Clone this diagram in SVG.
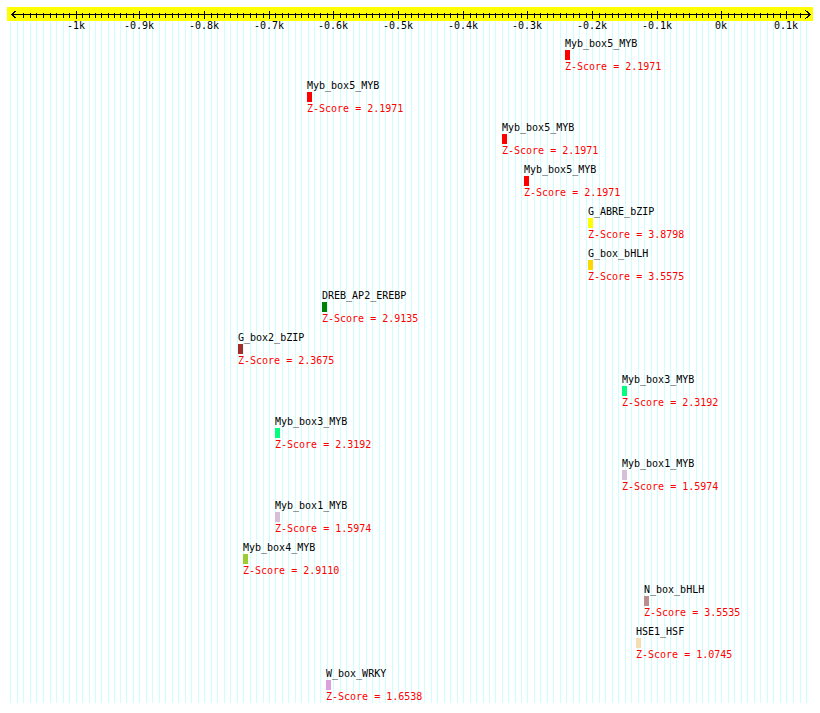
<svg xmlns="http://www.w3.org/2000/svg" width="820" height="713" viewBox="0 0 820 713">
<style>
text{font-family:"DejaVu Sans Mono","Liberation Mono",monospace;font-size:10px}
.n{fill:#000}
.z{fill:#ff0000}
.ax{fill:#000;text-anchor:middle}
.grid{stroke:#ccffff;stroke-width:1;fill:none;shape-rendering:crispEdges}
.tk{stroke:#000;stroke-width:1;fill:none;shape-rendering:crispEdges}
</style>
<rect width="820" height="713" fill="#ffffff"/>
<g id="grid" transform="translate(0.5,0)">
<path class="grid" d="M10 21V703M17 21V703M23 21V703M30 21V703M36 21V703M43 21V703M50 21V703M56 21V703M63 21V703M69 21V703M76 21V703M82 21V703M89 21V703M95 21V703M101 21V703M108 21V703M114 21V703M120 21V703M126 21V703M133 21V703M139 21V703M146 21V703M152 21V703M159 21V703M165 21V703M172 21V703M178 21V703M185 21V703M191 21V703M198 21V703M204 21V703M211 21V703M217 21V703M224 21V703M230 21V703M237 21V703M243 21V703M250 21V703M256 21V703M263 21V703M269 21V703M275 21V703M282 21V703M288 21V703M295 21V703M301 21V703M308 21V703M314 21V703M320 21V703M327 21V703M333 21V703M340 21V703M346 21V703M353 21V703M359 21V703M366 21V703M372 21V703M379 21V703M385 21V703M392 21V703M398 21V703M405 21V703M411 21V703M418 21V703M424 21V703M431 21V703M437 21V703M444 21V703M450 21V703M457 21V703M463 21V703M470 21V703M476 21V703M483 21V703M489 21V703M495 21V703M502 21V703M508 21V703M515 21V703M521 21V703M527 21V703M534 21V703M540 21V703M547 21V703M553 21V703M560 21V703M566 21V703M573 21V703M579 21V703M586 21V703M592 21V703M599 21V703M605 21V703M612 21V703M618 21V703M625 21V703M631 21V703M638 21V703M644 21V703M651 21V703M657 21V703M664 21V703M670 21V703M676 21V703M683 21V703M689 21V703M696 21V703M702 21V703M708 21V703M715 21V703M721 21V703M728 21V703M734 21V703M741 21V703M747 21V703M754 21V703M760 21V703M767 21V703M773 21V703M780 21V703M786 21V703M793 21V703M800 21V703M806 21V703"/>
</g>
<g id="axis">
<rect x="7" y="7" width="806" height="14" fill="#ffff00"/>
<g transform="translate(0.5,0.5)">
<path class="tk" d="M11 14H810"/>
<path class="tk" d="M23 12V17M30 12V17M36 12V17M43 12V17M50 12V17M56 12V17M63 12V17M69 12V17M82 12V17M89 12V17M95 12V17M101 12V17M108 12V17M114 12V17M120 12V17M126 12V17M133 12V17M146 12V17M152 12V17M159 12V17M165 12V17M172 12V17M178 12V17M185 12V17M191 12V17M198 12V17M211 12V17M217 12V17M224 12V17M230 12V17M237 12V17M243 12V17M250 12V17M256 12V17M263 12V17M275 12V17M282 12V17M288 12V17M295 12V17M301 12V17M308 12V17M314 12V17M320 12V17M327 12V17M340 12V17M346 12V17M353 12V17M359 12V17M366 12V17M372 12V17M379 12V17M385 12V17M392 12V17M405 12V17M411 12V17M418 12V17M424 12V17M431 12V17M437 12V17M444 12V17M450 12V17M457 12V17M470 12V17M476 12V17M483 12V17M489 12V17M495 12V17M502 12V17M508 12V17M515 12V17M521 12V17M534 12V17M540 12V17M547 12V17M553 12V17M560 12V17M566 12V17M573 12V17M579 12V17M586 12V17M599 12V17M605 12V17M612 12V17M618 12V17M625 12V17M631 12V17M638 12V17M644 12V17M651 12V17M664 12V17M670 12V17M676 12V17M683 12V17M689 12V17M696 12V17M702 12V17M708 12V17M715 12V17M728 12V17M734 12V17M741 12V17M747 12V17M754 12V17M760 12V17M767 12V17M773 12V17M780 12V17M793 12V17M800 12V17"/>
<path class="tk" d="M76 10V18M139 10V18M204 10V18M269 10V18M333 10V18M398 10V18M463 10V18M527 10V18M592 10V18M657 10V18M721 10V18M786 10V18"/>
<path class="tk" d="M16 10L11 14L16 18M805 10L810 14L805 18"/>
</g>
<text class="ax" x="76" y="29">-1k</text>
<text class="ax" x="139" y="29">-0.9k</text>
<text class="ax" x="204" y="29">-0.8k</text>
<text class="ax" x="269" y="29">-0.7k</text>
<text class="ax" x="333" y="29">-0.6k</text>
<text class="ax" x="398" y="29">-0.5k</text>
<text class="ax" x="463" y="29">-0.4k</text>
<text class="ax" x="527" y="29">-0.3k</text>
<text class="ax" x="592" y="29">-0.2k</text>
<text class="ax" x="657" y="29">-0.1k</text>
<text class="ax" x="721" y="29">0k</text>
<text class="ax" x="786" y="29">0.1k</text>
</g>
<g id="connectors"></g>
<g id="f1" transform="translate(565,0)"><text class="n" x="0" y="47">Myb_box5_MYB</text><rect x="0" y="50" width="5" height="10" fill="#ff0000"/><text class="z" x="0" y="70">Z-Score = 2.1971</text></g>
<g id="f2" transform="translate(307,42)"><text class="n" x="0" y="47">Myb_box5_MYB</text><rect x="0" y="50" width="5" height="10" fill="#ff0000"/><text class="z" x="0" y="70">Z-Score = 2.1971</text></g>
<g id="f3" transform="translate(502,84)"><text class="n" x="0" y="47">Myb_box5_MYB</text><rect x="0" y="50" width="5" height="10" fill="#ff0000"/><text class="z" x="0" y="70">Z-Score = 2.1971</text></g>
<g id="f4" transform="translate(524,126)"><text class="n" x="0" y="47">Myb_box5_MYB</text><rect x="0" y="50" width="5" height="10" fill="#ff0000"/><text class="z" x="0" y="70">Z-Score = 2.1971</text></g>
<g id="f5" transform="translate(588,168)"><text class="n" x="0" y="47">G_ABRE_bZIP</text><rect x="0" y="50" width="5" height="10" fill="#ffff00"/><text class="z" x="0" y="70">Z-Score = 3.8798</text></g>
<g id="f6" transform="translate(588,210)"><text class="n" x="0" y="47">G_box_bHLH</text><rect x="0" y="50" width="5" height="10" fill="#ffd700"/><text class="z" x="0" y="70">Z-Score = 3.5575</text></g>
<g id="f7" transform="translate(322,252)"><text class="n" x="0" y="47">DREB_AP2_EREBP</text><rect x="0" y="50" width="5" height="10" fill="#008000"/><text class="z" x="0" y="70">Z-Score = 2.9135</text></g>
<g id="f8" transform="translate(238,294)"><text class="n" x="0" y="47">G_box2_bZIP</text><rect x="0" y="50" width="5" height="10" fill="#a52a2a"/><text class="z" x="0" y="70">Z-Score = 2.3675</text></g>
<g id="f9" transform="translate(622,336)"><text class="n" x="0" y="47">Myb_box3_MYB</text><rect x="0" y="50" width="5" height="10" fill="#00ff7f"/><text class="z" x="0" y="70">Z-Score = 2.3192</text></g>
<g id="f10" transform="translate(275,378)"><text class="n" x="0" y="47">Myb_box3_MYB</text><rect x="0" y="50" width="5" height="10" fill="#00ff7f"/><text class="z" x="0" y="70">Z-Score = 2.3192</text></g>
<g id="f11" transform="translate(622,420)"><text class="n" x="0" y="47">Myb_box1_MYB</text><rect x="0" y="50" width="5" height="10" fill="#d8bfd8"/><text class="z" x="0" y="70">Z-Score = 1.5974</text></g>
<g id="f12" transform="translate(275,462)"><text class="n" x="0" y="47">Myb_box1_MYB</text><rect x="0" y="50" width="5" height="10" fill="#d8bfd8"/><text class="z" x="0" y="70">Z-Score = 1.5974</text></g>
<g id="f13" transform="translate(243,504)"><text class="n" x="0" y="47">Myb_box4_MYB</text><rect x="0" y="50" width="5" height="10" fill="#9acd32"/><text class="z" x="0" y="70">Z-Score = 2.9110</text></g>
<g id="f14" transform="translate(644,546)"><text class="n" x="0" y="47">N_box_bHLH</text><rect x="0" y="50" width="5" height="10" fill="#bc8f8f"/><text class="z" x="0" y="70">Z-Score = 3.5535</text></g>
<g id="f15" transform="translate(636,588)"><text class="n" x="0" y="47">HSE1_HSF</text><rect x="0" y="50" width="5" height="10" fill="#f5deb3"/><text class="z" x="0" y="70">Z-Score = 1.0745</text></g>
<g id="f16" transform="translate(326,630)"><text class="n" x="0" y="47">W_box_WRKY</text><rect x="0" y="50" width="5" height="10" fill="#dda0dd"/><text class="z" x="0" y="70">Z-Score = 1.6538</text></g>
</svg>
